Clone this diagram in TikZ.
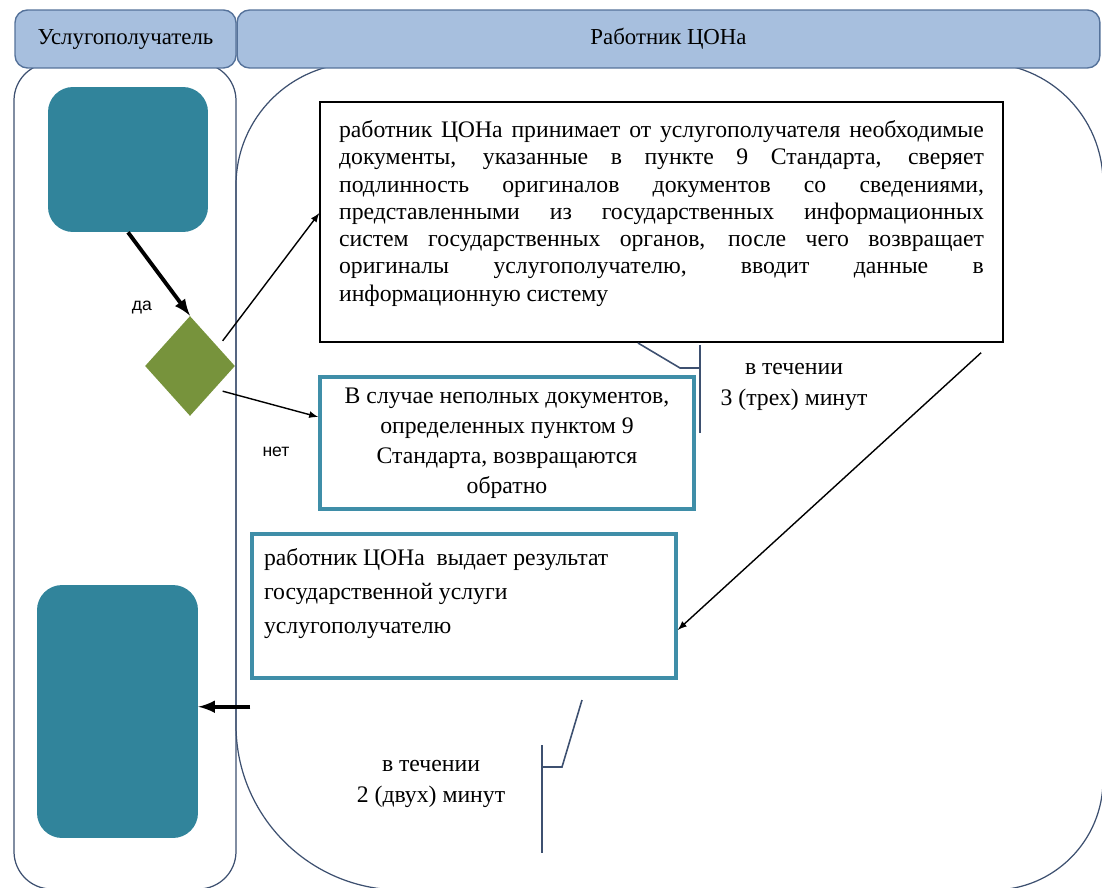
\documentclass[tikz,border=0pt]{standalone}
\usepackage{fontspec}
\setmainfont{Liberation Serif}
\setsansfont{Liberation Sans}
\usetikzlibrary{shapes.geometric}
\definecolor{headfill}{HTML}{A7BFDE}
\definecolor{headline}{HTML}{55729A}
\definecolor{laneline}{HTML}{3D5070}
\definecolor{actorfill}{HTML}{31849B}
\definecolor{choicefill}{HTML}{77933C}
\definecolor{tealline}{HTML}{3F8EA8}
\begin{document}
\begin{tikzpicture}[x=0.02cm,y=-0.02cm]
  \tikzstyle{lane}=[draw=laneline, line width=0.7pt]
  \tikzstyle{head}=[draw=headline, fill=headfill, rounded corners=0.25cm, line width=0.8pt, inner sep=0pt, font=\fontsize{13}{15}\selectfont]
  \tikzstyle{actor}=[fill=actorfill, rounded corners=0.5cm, inner sep=0pt]
  \tikzstyle{choice}=[diamond, fill=choicefill, inner sep=0pt, minimum width=1.8cm, minimum height=2cm]
  \tikzstyle{task}=[draw=black, line width=0.8pt, fill=white, inner sep=0pt, font=\fontsize{13.5}{15.5}\selectfont]
  \tikzstyle{tealbox}=[draw=tealline, line width=2pt, fill=white, inner sep=0pt]
  \tikzstyle{note}=[align=center, font=\fontsize{13.5}{18}\selectfont]
  \tikzstyle{answer}=[font=\sffamily\fontsize{10}{12}\selectfont]
  \tikzstyle{flow}=[-latex, line width=0.8pt]
  \tikzstyle{bold flow}=[-latex, line width=2.2pt]
  \tikzstyle{brace}=[draw=laneline, line width=0.9pt]

  \useasboundingbox (0,0) rectangle (1102,888);
  \clip (0,0) rectangle (1102,888);

  % lanes
  \draw[lane, rounded corners=0.75cm] (14,63) rectangle (236,889);
  \draw[lane, rounded corners=2.45cm] (236,450) -- (236,63) -- (670,63);
  \draw[lane, rounded corners=2.4cm] (670,63) -- (1103,63) -- (1103,450);
  \draw[lane, rounded corners=2.2cm] (1103,450) -- (1103,890) -- (670,890);
  \draw[lane, rounded corners=3.3cm] (670,890) -- (236,890) -- (236,450);

  \node[head, minimum width=4.42cm, minimum height=1.16cm] (client head) at (125.5,39) {Услугополучатель};
  \node[head, minimum width=17.26cm, minimum height=1.16cm] (worker head) at (668.5,39) {Работник ЦОНа};

  % client side
  \node[actor, minimum width=3.2cm, minimum height=2.9cm] (start) at (128,159.5) {};
  \node[actor, minimum width=3.22cm, minimum height=5.06cm] (end) at (117.5,711.5) {};
  \node[choice] (check) at (190,366) {};

  % worker side
  \node[task, minimum width=13.66cm, minimum height=4.8cm] (task) at (661.5,222) {\parbox[c][4.05cm][t]{12.9cm}{\hyphenpenalty=10000
    работник ЦОНа принимает от услугополучателя необходимые\linebreak
    документы, указанные в~пункте 9 Стандарта, сверяет\linebreak
    подлинность оригиналов документов со сведениями,\linebreak
    представленными из государственных информационных\linebreak
    систем государственных органов, после чего возвращает\linebreak
    оригиналы услугополучателю, вводит данные в\linebreak
    информационную систему}};
  \node[tealbox, minimum width=7.48cm, minimum height=2.64cm, align=center, font=\fontsize{13.5}{17}\selectfont] (redo) at (507,443)
    {В случае неполных документов,\\ определенных пунктом 9\\ Стандарта, возвращаются\\ обратно};
  \node[tealbox, minimum width=8.48cm, minimum height=2.88cm, font=\fontsize{13.5}{19.4}\selectfont] (result) at (464,606)
    {\parbox[c][2.3cm][t]{8cm}{\raggedright работник ЦОНа\ \ выдает результат\\ государственной услуги\\ услугополучателю}};

  \node[note] (time one) at (794,387) {в течении\\ 3 (трех) минут};
  \node[note] (time two) at (431,784) {в течении\\ 2 (двух) минут};

  \node[answer] (yes) at (142,308) {да};
  \node[answer] (no) at (276,452) {нет};

  % connectors
  \draw[bold flow] (start.south) -- (check.north);
  \draw[flow] ([xshift=0.2cm]check.north east) -- ([yshift=0.18cm]task.west);
  \draw[flow] ([xshift=0.2cm]check.south east) -- ([yshift=0.52cm]redo.west);
  \draw[flow] ([xshift=-0.45cm, yshift=-0.2cm]task.south east) -- ([yshift=-0.48cm]result.east);
  \coordinate (back) at ([yshift=-0.54cm]result.south west);
  \draw[bold flow] (back) -- (back -| end.east);

  % time brackets
  \draw[brace] (638,343) -- (680,368) -- (700,368);
  \draw[brace] (700,345) -- (700,433);
  \draw[brace] (582,700) -- (562,767) -- (542,767);
  \draw[brace] (542,745) -- (542,853);
\end{tikzpicture}
\end{document}
